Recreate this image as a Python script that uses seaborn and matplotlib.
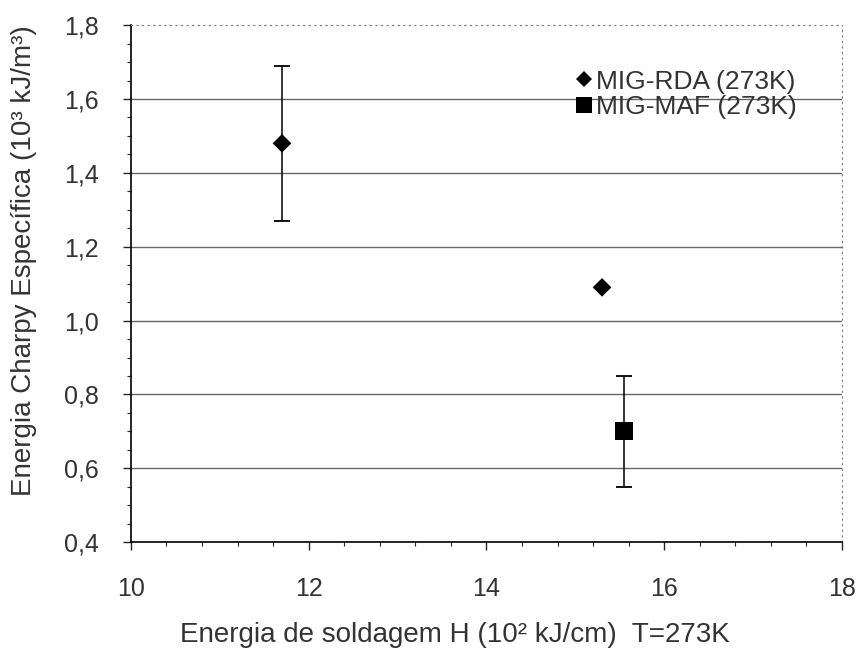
import matplotlib
matplotlib.use("Agg")
import matplotlib.pyplot as plt
from matplotlib.ticker import MultipleLocator, FuncFormatter
import pandas as pd
import seaborn as sns

# ------------------ DATA ------------------
series = ["MIG-RDA (273K)", "MIG-RDA (273K)", "MIG-MAF (273K)"]
energia_h = [11.7, 15.3, 15.55]        # 10^2 kJ/cm
charpy = [1.48, 1.09, 0.70]            # 10^3 kJ/m^3
erro = [0.21, 0.0, 0.15]

df = pd.DataFrame({"Serie": series, "H": energia_h, "E": charpy, "err": erro})

# ------------------ PLOT ------------------
sns.set_style("ticks")
plt.rcParams["font.family"] = ["Liberation Sans", "DejaVu Sans"]

fig = plt.figure(figsize=(8.61, 6.62), dpi=100)
ax = fig.add_axes([0.152, 0.181, 0.826, 0.781])

# error bars first, markers on top
sub = df[df["err"] > 0]
ax.errorbar(sub["H"], sub["E"], yerr=sub["err"], fmt="none", ecolor="black",
            elinewidth=1.1, capsize=6, capthick=1.3, zorder=2)

sns.scatterplot(data=df, x="H", y="E", hue="Serie", style="Serie", size="Serie",
                markers={"MIG-RDA (273K)": "D", "MIG-MAF (273K)": "s"},
                palette={"MIG-RDA (273K)": "black", "MIG-MAF (273K)": "black"},
                sizes={"MIG-RDA (273K)": 90, "MIG-MAF (273K)": 170},
                edgecolor="black", linewidth=0, ax=ax, zorder=3)

ax.set_xlim(10, 18)
ax.set_ylim(0.4, 1.8)
ax.xaxis.set_major_locator(MultipleLocator(2))
ax.xaxis.set_minor_locator(MultipleLocator(0.4))
ax.yaxis.set_major_locator(MultipleLocator(0.2))
ax.yaxis.set_minor_locator(MultipleLocator(0.05))
ax.yaxis.set_major_formatter(FuncFormatter(lambda v, p: f"{v:.1f}".replace(".", ",")))

ax.tick_params(axis="both", which="major", labelsize=18, length=6, width=1,
               labelcolor="#333333")
ax.tick_params(axis="x", which="major", pad=19)
ax.tick_params(axis="y", which="major", pad=17)
ax.tick_params(axis="both", which="minor", length=3, width=0.8)

for y in [0.6, 0.8, 1.0, 1.2, 1.4, 1.6]:
    ax.axhline(y, color="#666666", linewidth=1.0, zorder=1)

for side in ["top", "right"]:
    ax.spines[side].set_linestyle((0, (1, 4)))
    ax.spines[side].set_color("#777777")
    ax.spines[side].set_linewidth(0.8)
for side in ["left", "bottom"]:
    ax.spines[side].set_color("black")
    ax.spines[side].set_linewidth(1.2)

ax.set_xlabel("Energia de soldagem H (10² kJ/cm)  T=273K", fontsize=20,
              color="#333333")
ax.set_ylabel("Energia Charpy Específica (10³ kJ/m³)", fontsize=20,
              color="#333333")
ax.xaxis.set_label_coords(0.456, -0.155)
ax.yaxis.set_label_coords(-0.132, 0.545)

leg = ax.legend(loc="upper right", bbox_to_anchor=(0.97, 0.96), frameon=False,
                fontsize=19, handletextpad=0.0, handlelength=0.9,
                labelspacing=0.05, markerscale=0.9)
for t in leg.get_texts():
    t.set_color("#333333")

fig.savefig("out.png", dpi=100)
